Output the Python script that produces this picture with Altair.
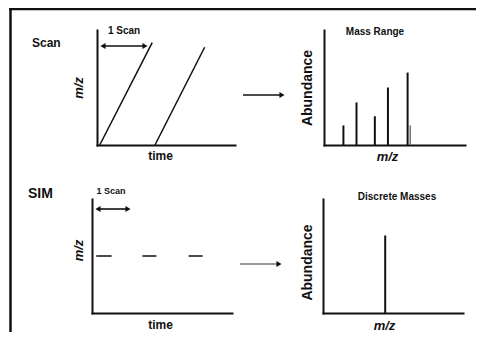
import altair as alt
import pandas as pd

# ---------------- data ----------------
# Scan panel: two linear m/z ramps over time (time 0-100, m/z 0-100)
scan_id = [1, 1, 2, 2]
scan_time = [2, 40, 42, 78]
scan_mz = [0, 89, 0, 85]

# Mass Range spectrum (m/z 0-100, abundance 0-100)
mass_range_mz = [11, 21, 35, 45, 60]
mass_range_abund = [17, 37, 25, 50, 63]
mass_range_minor_mz = [62]
mass_range_minor_abund = [17]

# SIM panel: dwell segments at a single m/z
sim_start = [3, 36, 69]
sim_end = [14, 46, 79]
sim_mz = [50, 50, 50]

# Discrete Masses spectrum
discrete_mz = [44]
discrete_abund = [68]

# ---------------- styling helpers ----------------
INK = "#111111"
FONT = "'Liberation Sans', Arial, sans-serif"
one = pd.DataFrame({"k": [0]})
pos = alt.Scale(domain=[0, 100], nice=False, zero=False)


def axis(title, pad, italic=False, size=13, tx=None, ty=None):
    kw = dict(title=title, labels=False, ticks=False, grid=False,
              domainColor=INK, domainWidth=2, domainCap="square",
              titleColor=INK, titleFont=FONT, titleFontSize=size,
              titleFontWeight="bold", titlePadding=pad)
    if italic:
        kw["titleFontStyle"] = "italic"
    if tx is not None:
        kw["titleX"] = tx
    if ty is not None:
        kw["titleY"] = ty
    return alt.Axis(**kw)


def text(label, x, y, size, align="center"):
    return alt.Chart(one).mark_text(
        text=label, font=FONT, fontSize=size, fontWeight="bold",
        color=INK, align=align, baseline="middle"
    ).encode(x=alt.value(x), y=alt.value(y))


def hrule(x1, x2, y, w=1.6, color=INK, cap="butt"):
    return alt.Chart(one).mark_rule(color=color, strokeWidth=w, strokeCap=cap).encode(
        x=alt.value(x1), x2=alt.value(x2), y=alt.value(y))


def vrule(x, y1, y2, w=1.6, color=INK, cap="butt"):
    return alt.Chart(one).mark_rule(color=color, strokeWidth=w, strokeCap=cap).encode(
        x=alt.value(x), y=alt.value(y1), y2=alt.value(y2))


def head(x, y, shape, size=35):
    return alt.Chart(one).mark_point(
        shape=shape, filled=True, color=INK, size=size, opacity=1
    ).encode(x=alt.value(x), y=alt.value(y))


# ---------------- outer frame: top and left edges only ----------------
FX, FY, FW = -86.5, -21.0, 2.5
frame_top = hrule(FX, 379, FY, w=FW, cap="square")
frame_left = vrule(FX, FY, 302, w=FW, cap="square")

# ---------------- top-left: Scan ----------------
scan_df = pd.DataFrame({"scan": scan_id, "time": scan_time, "mz": scan_mz})
tl_lines = alt.Chart(scan_df).mark_line(color=INK, strokeWidth=1.5).encode(
    x=alt.X("time:Q", scale=pos, axis=axis("time", 5, tx=63, size=12)),
    y=alt.Y("mz:Q", scale=pos, axis=axis("m/z", 12, italic=True)),
    detail="scan:N",
)

tl = alt.layer(
    frame_top, frame_left, tl_lines,
    text("Scan", -65, 13, 12, "left"),
    text("1 Scan", 27, 1, 10),
    hrule(6, 48, 16), head(6, 16, "triangle-left"), head(48, 16, "triangle-right"),
).properties(width=138, height=115)

gap_t = alt.layer(
    hrule(8, 46, 65), head(47, 65, "triangle-right")
).properties(width=89, height=115)

# ---------------- top-right: Mass Range ----------------
mr_df = pd.DataFrame({"mz": mass_range_mz, "abund": mass_range_abund})
mr_minor = pd.DataFrame({"mz": mass_range_minor_mz, "abund": mass_range_minor_abund})
tr_bars = alt.Chart(mr_df).mark_bar(size=2, color=INK).encode(
    x=alt.X("mz:Q", scale=pos, axis=axis("m/z", 5, italic=True, tx=63)),
    y=alt.Y("abund:Q", scale=pos, axis=axis("Abundance", 10, size=14)),
)
tr_minor = alt.Chart(mr_minor).mark_bar(size=1.5, color="#777777").encode(
    x=alt.X("mz:Q", scale=pos), y=alt.Y("abund:Q", scale=pos))
tr = alt.layer(tr_bars, tr_minor, text("Mass Range", 51, 2, 10)).properties(width=141, height=115)

spacer = alt.Chart(one).mark_point(opacity=0).encode(
    x=alt.value(0), y=alt.value(0)).properties(width=5, height=115)

# ---------------- bottom-left: SIM ----------------
sim_df = pd.DataFrame({"start": sim_start, "end": sim_end, "mz": sim_mz})
bl_dash = alt.Chart(sim_df).mark_rule(color=INK, strokeWidth=1.5).encode(
    x=alt.X("start:Q", scale=pos, axis=axis("time", 6, tx=68, size=12)),
    x2="end:Q",
    y=alt.Y("mz:Q", scale=pos, axis=axis("m/z", 7, italic=True, ty=51)),
)
bl = alt.layer(
    bl_dash,
    text("SIM", -64, -5, 14, "left"),
    text("1 Scan", 19, -8, 9),
    hrule(6, 36, 10), head(6, 10, "triangle-left"), head(36, 10, "triangle-right"),
).properties(width=140, height=114)

gap_b = alt.layer(
    hrule(8, 46, 65, w=1.2, color="#333333"), head(47, 65, "triangle-right")
).properties(width=91, height=114)

# ---------------- bottom-right: Discrete Masses ----------------
dm_df = pd.DataFrame({"mz": discrete_mz, "abund": discrete_abund})
br_bar = alt.Chart(dm_df).mark_bar(size=2, color=INK).encode(
    x=alt.X("mz:Q", scale=pos, axis=axis("m/z", 6, italic=True, tx=61)),
    y=alt.Y("abund:Q", scale=pos, axis=axis("Abundance", 9, size=14, ty=63)),
)
br = alt.layer(br_bar, text("Discrete Masses", 74, -2, 10)).properties(width=140, height=114)

top = alt.hconcat(spacer, tl, gap_t, tr, spacing=0, bounds="flush")
bottom = alt.hconcat(bl, gap_b, br, spacing=0, bounds="flush")

chart = alt.vconcat(top, bottom, spacing=169, bounds="flush").properties(
    autosize=alt.AutoSizeParams(type="none"),
    padding={"left": 84, "top": 22, "right": 384, "bottom": 302},
    background="white",
).configure_view(strokeWidth=0)

chart.save("out.html", embed_options={"renderer": "svg", "actions": False})
